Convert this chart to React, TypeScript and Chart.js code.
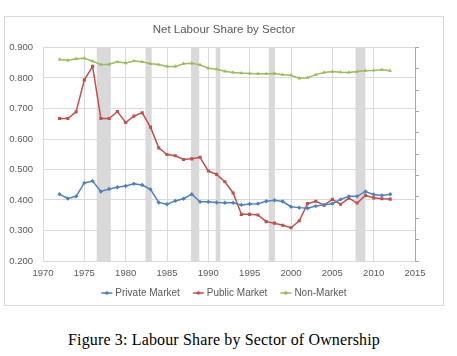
import React, { useEffect, useRef } from 'react';
import { Chart, registerables } from 'chart.js';

Chart.register(...registerables);

const chartTitle = 'Net Labour Share by Sector';
const caption = 'Figure 3: Labour Share by Sector of Ownership';

const years = [
  1972, 1973, 1974, 1975, 1976, 1977, 1978, 1979, 1980, 1981,
  1982, 1983, 1984, 1985, 1986, 1987, 1988, 1989, 1990, 1991,
  1992, 1993, 1994, 1995, 1996, 1997, 1998, 1999, 2000, 2001,
  2002, 2003, 2004, 2005, 2006, 2007, 2008, 2009, 2010, 2011,
  2012,
];

const privateMarket = [
  0.419, 0.405, 0.412, 0.456, 0.462, 0.428, 0.436, 0.442, 0.446, 0.453,
  0.449, 0.435, 0.392, 0.386, 0.397, 0.404, 0.419, 0.394, 0.394, 0.392,
  0.391, 0.391, 0.384, 0.387, 0.388, 0.396, 0.399, 0.395, 0.378, 0.375,
  0.373, 0.380, 0.384, 0.388, 0.402, 0.412, 0.412, 0.428, 0.418, 0.415,
  0.419,
];

const publicMarket = [
  0.667, 0.667, 0.689, 0.794, 0.838, 0.667, 0.667, 0.690, 0.654, 0.675,
  0.686, 0.639, 0.571, 0.549, 0.545, 0.533, 0.535, 0.540, 0.495, 0.484,
  0.460, 0.423, 0.353, 0.353, 0.351, 0.329, 0.324, 0.317, 0.309, 0.332,
  0.388, 0.396, 0.383, 0.402, 0.386, 0.406, 0.390, 0.415, 0.407, 0.404,
  0.403,
];

const nonMarket = [
  0.861, 0.858, 0.863, 0.865, 0.855, 0.844, 0.845, 0.853, 0.849, 0.856,
  0.853, 0.847, 0.844, 0.838, 0.838, 0.847, 0.848, 0.843, 0.832, 0.829,
  0.822, 0.818, 0.816, 0.815, 0.814, 0.814, 0.815, 0.811, 0.809, 0.799,
  0.801, 0.811, 0.818, 0.821, 0.819, 0.818, 0.821, 0.824, 0.825, 0.827,
  0.824,
];

const recessionStarts = [1976.5, 1982.4, 1987.9, 1990.9, 1997.3, 2007.8];
const recessionEnds = [1978.2, 1983.15, 1988.9, 1991.45, 1998.05, 2009.0];

const seriesNames = ['Private Market', 'Public Market', 'Non-Market'];
const seriesColors = ['#4F81BD', '#C0504D', '#9BBB59'];
const seriesMarkers = ['rectRot', 'rect', 'triangle'];

const xMin = 1970;
const xMax = 2015;
const xStep = 5;
const yMin = 0.2;
const yMax = 0.9;
const yStep = 0.1;

const TEXT = '#595959';
const GRID = '#D9D9D9';
const FONT = "'Liberation Sans', Arial, sans-serif";

const recessionPlugin = {
  id: 'recessions',
  beforeDatasetsDraw(chart: any) {
    const { ctx, chartArea, scales } = chart;
    const xs = scales.x;
    const ys = scales.y2;
    ctx.save();
    ctx.beginPath();
    ctx.rect(chartArea.left, chartArea.top, chartArea.right - chartArea.left, chartArea.bottom - chartArea.top);
    ctx.clip();
    ctx.fillStyle = '#D9D9D9';
    const top = ys.getPixelForValue(1);
    const bottom = ys.getPixelForValue(0);
    recessionStarts.forEach((s, i) => {
      const x1 = xs.getPixelForValue(s);
      const x2 = xs.getPixelForValue(recessionEnds[i]);
      ctx.fillRect(x1, top, x2 - x1, bottom - top);
    });
    ctx.restore();
  },
};

const legendPlugin = {
  id: 'customLegend',
  afterDraw(chart: any) {
    const { ctx } = chart;
    const ds = chart.data.datasets;
    ctx.save();
    ctx.font = `10px ${FONT}`;
    const lineLen = 11;
    const gap = 3;
    const itemGap = 13;
    const widths = ds.map((d: any) => lineLen + gap + ctx.measureText(d.label).width);
    const total = widths.reduce((a: number, b: number) => a + b, 0) + itemGap * (ds.length - 1);
    let x = chart.width / 2 - total / 2;
    const y = 276;
    ds.forEach((d: any, i: number) => {
      ctx.strokeStyle = d.borderColor;
      ctx.lineWidth = 1.5;
      ctx.beginPath();
      ctx.moveTo(x, y);
      ctx.lineTo(x + lineLen, y);
      ctx.stroke();
      ctx.fillStyle = d.borderColor;
      ctx.beginPath();
      ctx.arc(x + lineLen / 2, y, 1.8, 0, Math.PI * 2);
      ctx.fill();
      ctx.fillStyle = TEXT;
      ctx.textBaseline = 'middle';
      ctx.textAlign = 'left';
      ctx.fillText(d.label, x + lineLen + gap, y + 0.5);
      x += widths[i] + itemGap;
    });
    ctx.restore();
  },
};

function ChartCanvas() {
  const ref = useRef<HTMLCanvasElement | null>(null);
  useEffect(() => {
    if (!ref.current) return;
    const series = [privateMarket, publicMarket, nonMarket];
    const chart = new Chart(ref.current, {
      type: 'line',
      data: {
        datasets: series.map((vals, i) => ({
          label: seriesNames[i],
          data: years.map((yr, j) => ({ x: yr, y: vals[j] })),
          borderColor: seriesColors[i],
          backgroundColor: seriesColors[i],
          borderWidth: 1.5,
          pointStyle: seriesMarkers[i] as any,
          pointRadius: 2.2,
          pointBorderWidth: 0,
          tension: 0,
          yAxisID: 'y',
        })),
      },
      options: {
        responsive: false,
        maintainAspectRatio: false,
        animation: false,
        layout: { padding: { left: 0, right: 0, top: 0, bottom: 24 } },
        plugins: {
          legend: { display: false },
          tooltip: { enabled: false },
          title: {
            display: true,
            text: chartTitle,
            color: TEXT,
            font: { family: FONT, size: 11.5, weight: 'normal', lineHeight: 1.2 },
            padding: { top: 6, bottom: 10.7 },
          },
        },
        scales: {
          x: {
            type: 'linear',
            min: xMin,
            max: xMax,
            grid: { color: GRID, drawTicks: false, lineWidth: 1 },
            border: { display: false },
            ticks: {
              stepSize: xStep,
              color: TEXT,
              padding: 7,
              font: { family: FONT, size: 9.5 },
              callback: (v: any) => String(v),
              maxRotation: 0,
            },
            afterFit: (s: any) => { s.height = 20; },
          },
          y: {
            position: 'left',
            min: yMin,
            max: yMax,
            grid: { color: GRID, drawTicks: false },
            border: { display: false },
            ticks: {
              stepSize: yStep,
              color: TEXT,
              padding: 10,
              font: { family: FONT, size: 9.5 },
              callback: (v: any) => Number(v).toFixed(3),
            },
            afterFit: (s: any) => { s.width = 38; },
          },
          y2: {
            position: 'right',
            min: 0,
            max: 1,
            grid: { drawOnChartArea: false, drawTicks: true, tickLength: 4, color: '#A6A6A6' },
            border: { display: true, color: '#A6A6A6' },
            ticks: { stepSize: 0.1, display: false },
            afterFit: (s: any) => { s.width = 28; },
          },
        },
      },
      plugins: [recessionPlugin, legendPlugin],
    });
    return () => chart.destroy();
  }, []);
  return <canvas ref={ref} width={438} height={288} style={{ width: 438, height: 288, display: 'block' }} />;
}

export default function App() {
  return (
    <div style={{ position: 'absolute', left: 0, top: 0, width: 457, height: 356, background: '#fff' }}>
      <div
        style={{
          position: 'absolute',
          left: 4,
          top: 16,
          width: 440,
          height: 290,
          border: '1px solid #D9D9D9',
          boxSizing: 'border-box',
        }}
      >
        <ChartCanvas />
      </div>
      <div
        style={{
          position: 'absolute',
          left: 5,
          top: 331,
          width: 438,
          textAlign: 'center',
          fontFamily: "'Liberation Serif', 'Times New Roman', serif",
          fontSize: 16,
          lineHeight: '18px',
          letterSpacing: '0.15px',
          color: '#000',
        }}
      >
        {caption}
      </div>
    </div>
  );
}
